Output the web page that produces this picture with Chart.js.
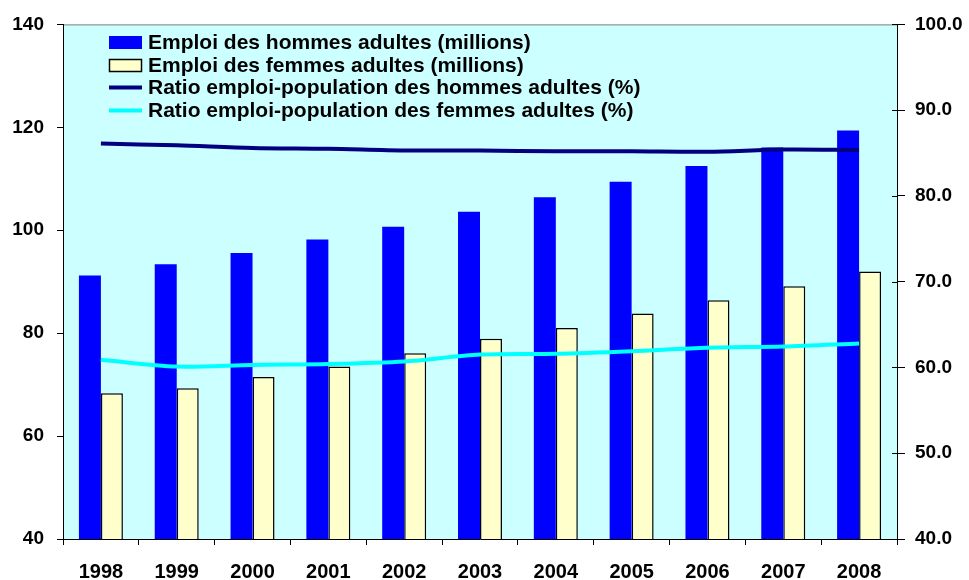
<!DOCTYPE html>
<html>
<head>
<meta charset="utf-8">
<script src="https://cdn.jsdelivr.net/npm/chart.js@4"></script>
<style>
  html, body { margin: 0; padding: 0; background: #fff; }
  #wrap { width: 969px; height: 580px; }
</style>
</head>
<body>
<div id="wrap"><canvas id="c" width="969" height="580"></canvas></div>
<script>
"use strict";

const years = ["1998", "1999", "2000", "2001", "2002", "2003", "2004", "2005", "2006", "2007", "2008"];
const menEmployment = [91.2, 93.4, 95.6, 98.2, 100.7, 103.6, 106.4, 109.4, 112.5, 116.1, 119.4];
const womenEmployment = [68.3, 69.3, 71.5, 73.5, 76.1, 78.9, 81.0, 83.8, 86.4, 89.1, 92.0];
const menRatio = [86.1, 85.9, 85.6, 85.5, 85.3, 85.3, 85.2, 85.2, 85.15, 85.4, 85.35];
const womenRatio = [60.9, 60.1, 60.3, 60.4, 60.7, 61.5, 61.6, 61.9, 62.3, 62.45, 62.8];

const FONT = "'Liberation Sans', Arial, sans-serif";

// fond du graphique + bord haut + petits traits internes à droite
const plotArea = {
  id: "plotArea",
  beforeDraw(chart) {
    const { ctx, chartArea: a } = chart;
    ctx.save();
    ctx.fillStyle = "#ccffff";
    ctx.fillRect(a.left, a.top, a.right - a.left, a.bottom - a.top);
    ctx.strokeStyle = "#808080";
    ctx.lineWidth = 1;
    ctx.beginPath();
    ctx.moveTo(a.left, a.top + 0.5);
    ctx.lineTo(a.right, a.top + 0.5);
    ctx.stroke();
    ctx.restore();
  },
  afterDraw(chart) {
    const { ctx, chartArea: a } = chart;
    const y1 = chart.scales.y1;
    ctx.save();
    ctx.strokeStyle = "#000";
    ctx.lineWidth = 1;
    ctx.beginPath();
    for (const t of y1.ticks) {
      const y = Math.round(y1.getPixelForValue(t.value)) + 0.5;
      ctx.moveTo(a.right - 5, y);
      ctx.lineTo(a.right, y);
    }
    ctx.stroke();
    ctx.restore();
  },
};

// légende dessinée dans la zone du graphique, en haut à gauche
const insideLegend = {
  id: "insideLegend",
  afterDraw(chart) {
    const { ctx } = chart;
    const x0 = 109, w = 33, rows = [42.5, 65.5, 87.5, 110.5];
    ctx.save();
    chart.data.datasets.forEach((ds, i) => {
      const y = rows[i];
      if (ds.type === "line") {
        ctx.strokeStyle = ds.borderColor;
        ctx.lineWidth = 4;
        ctx.beginPath();
        ctx.moveTo(x0, y);
        ctx.lineTo(x0 + w, y);
        ctx.stroke();
      } else {
        ctx.fillStyle = ds.backgroundColor;
        ctx.fillRect(x0, y - 6.5, w, 13);
        if (ds.borderWidth) {
          ctx.strokeStyle = ds.borderColor;
          ctx.lineWidth = 1.5;
          ctx.strokeRect(x0 + 0.5, y - 6, w - 1, 12);
        }
      }
      ctx.fillStyle = "#000";
      ctx.font = "bold 21px " + FONT;
      ctx.textBaseline = "middle";
      ctx.fillText(ds.label, 148, y + 1);
    });
    ctx.restore();
  },
};

new Chart(document.getElementById("c"), {
  data: {
    labels: years,
    datasets: [
      {
        type: "bar", label: "Emploi des hommes adultes (millions)", data: menEmployment,
        backgroundColor: "#0000ff", borderWidth: 0, yAxisID: "y", order: 2,
        categoryPercentage: 0.58, barPercentage: 1.0,
      },
      {
        type: "bar", label: "Emploi des femmes adultes (millions)", data: womenEmployment,
        backgroundColor: "#ffffcc", borderColor: "#000", borderWidth: 1.5, yAxisID: "y", order: 2,
        categoryPercentage: 0.58, barPercentage: 1.0,
      },
      {
        type: "line", label: "Ratio emploi-population des hommes adultes (%)", data: menRatio,
        borderColor: "#000080", backgroundColor: "#000080", borderWidth: 4, pointRadius: 0,
        tension: 0.3, yAxisID: "y1", order: 1,
      },
      {
        type: "line", label: "Ratio emploi-population des femmes adultes (%)", data: womenRatio,
        borderColor: "#00ffff", backgroundColor: "#00ffff", borderWidth: 4, pointRadius: 0,
        tension: 0.3, yAxisID: "y1", order: 1,
      },
    ],
  },
  options: {
    responsive: false,
    animation: false,
    layout: { padding: { top: 22, left: 0, right: 0, bottom: 0 } },
    plugins: { legend: { display: false }, tooltip: { enabled: false } },
    scales: {
      x: {
        offset: true,
        grid: { offset: true, drawOnChartArea: false, drawTicks: true, tickLength: 6, color: "#000" },
        border: { color: "#000", width: 1 },
        ticks: { color: "#000", font: { family: FONT, size: 20, weight: "bold" }, padding: 15, maxRotation: 0 },
        afterFit(s) { s.height = 41; },
      },
      y: {
        position: "left", min: 40, max: 140,
        ticks: { stepSize: 20, color: "#000", font: { family: FONT, size: 19, weight: "bold" }, padding: 13 },
        grid: { drawOnChartArea: false, tickLength: 6, color: "#000" },
        border: { color: "#000", width: 1 },
        afterFit(s) { s.width = 63; },
      },
      y1: {
        position: "right", min: 40, max: 100,
        ticks: {
          stepSize: 10, color: "#000", font: { family: FONT, size: 19, weight: "bold" }, padding: 10,
          callback: (v) => Number(v).toFixed(1),
        },
        grid: { drawOnChartArea: false, tickLength: 8, color: "#000" },
        border: { color: "#000", width: 1 },
        afterFit(s) { s.width = 72; },
      },
    },
  },
  plugins: [plotArea, insideLegend],
});
</script>
</body>
</html>
